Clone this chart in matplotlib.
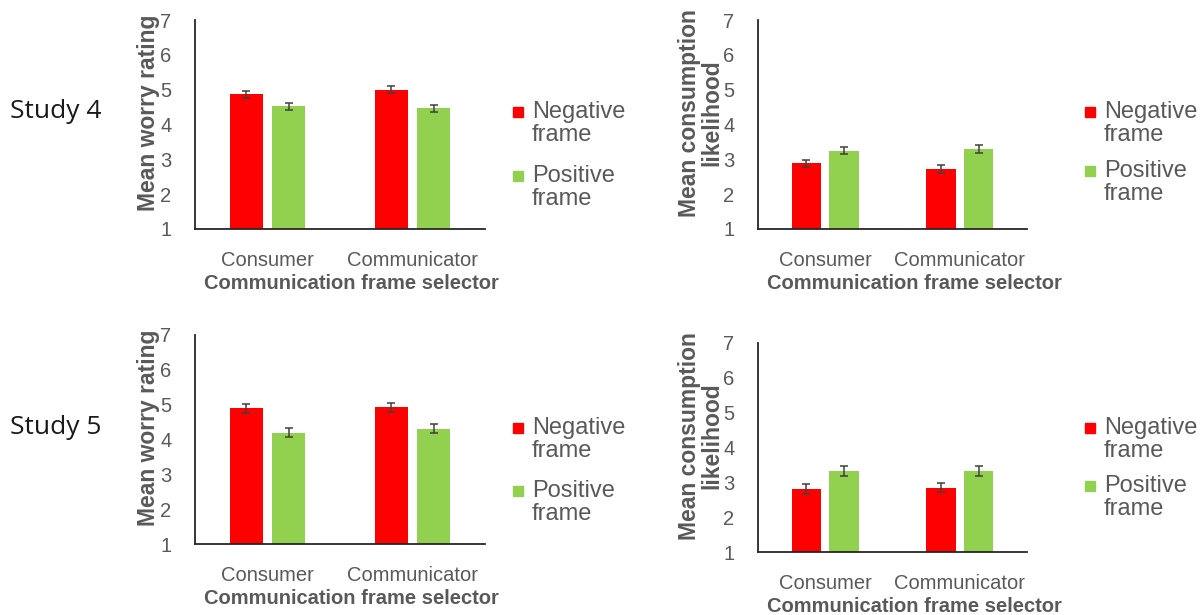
import numpy as np
import matplotlib
matplotlib.use("Agg")
import matplotlib.pyplot as plt
from matplotlib.patches import Rectangle

groups = ["Consumer", "Communicator"]
frames = ["Negative\nframe", "Positive\nframe"]
colors = ["#ff0000", "#92d050"]

# study 4
s4_worry_neg = [4.87, 5.00]
s4_worry_pos = [4.52, 4.46]
s4_worry_err = [0.10, 0.10]
s4_cons_neg = [2.89, 2.72]
s4_cons_pos = [3.25, 3.30]
s4_cons_err = [0.10, 0.11]

# study 5
s5_worry_neg = [4.89, 4.92]
s5_worry_pos = [4.20, 4.31]
s5_worry_err = [0.14, 0.13]
s5_cons_neg = [2.80, 2.85]
s5_cons_pos = [3.32, 3.32]
s5_cons_err = [0.14, 0.14]

W, H = 1204, 615
grey = "#595959"
fig = plt.figure(figsize=(W / 100, H / 100), dpi=100)
plt.rcParams['font.family'] = ['Liberation Sans', 'DejaVu Sans']


def px_axes(l, r, t, b):
    return fig.add_axes([l / W, 1 - b / H, (r - l) / W, (b - t) / H])


def legend(x, y_rows):
    # manual legend: square next to the first line of each two-line label
    for lab, c, y in zip(frames, colors, y_rows):
        fig.patches.append(Rectangle(((x) / W, 1 - (y + 5) / H), 10 / W, 10 / H,
                                     transform=fig.transFigure, color=c))
        fig.text((x + 19) / W, 1 - (y - 11) / H, lab, fontsize=17, color=grey,
                 va="top", ha="left", linespacing=1.03)


def panel(ax, neg, pos, err, ylabel, bw, xl_x):
    x = np.arange(len(groups))
    off = bw / 2 + 0.03
    for vals, c, d in [(neg, colors[0], -off), (pos, colors[1], off)]:
        ax.bar(x + d, np.array(vals) - 1, bw, bottom=1, color=c, zorder=2)
        ax.errorbar(x + d, vals, yerr=err, fmt="none", ecolor="#404040",
                    elinewidth=1.1, capsize=3, capthick=1.1, zorder=3)
    ax.set_xlim(-0.5, 1.5)
    ax.set_ylim(1, 7)
    ax.set_yticks(range(1, 8))
    ax.set_xticks(x)
    ax.set_xticklabels(groups)
    for s in ["top", "right"]:
        ax.spines[s].set_visible(False)
    for s in ["left", "bottom"]:
        ax.spines[s].set_color("#262626")
        ax.spines[s].set_linewidth(1.3)
    ax.tick_params(length=0, labelsize=14.5, colors=grey)
    ax.tick_params(axis="x", pad=16)
    ax.tick_params(axis="y", pad=17)
    ax.set_xlabel("Communication frame selector", fontsize=14.5, fontweight="bold",
                  color=grey, labelpad=3)
    ax.set_ylabel(ylabel, fontsize=16.5, fontweight="bold", color=grey,
                  labelpad=0, linespacing=0.95)
    ax.xaxis.label.set_x(xl_x)
    ax.yaxis.label.set_y(0.557)


ax1 = px_axes(195, 485, 20, 229)
panel(ax1, s4_worry_neg, s4_worry_pos, s4_worry_err, "Mean worry rating", 0.23, 0.538)
legend(513, [112, 176])
ax2 = px_axes(758, 1027, 20, 229)
panel(ax2, s4_cons_neg, s4_cons_pos, s4_cons_err, "Mean consumption\nlikelihood", 0.22, 0.58)
legend(1085, [112, 171])
ax3 = px_axes(195, 485, 335, 544)
panel(ax3, s5_worry_neg, s5_worry_pos, s5_worry_err, "Mean worry rating", 0.23, 0.538)
legend(513, [428, 491])
ax4 = px_axes(758, 1027, 343, 552)
panel(ax4, s5_cons_neg, s5_cons_pos, s5_cons_err, "Mean consumption\nlikelihood", 0.22, 0.58)
legend(1085, [428, 486])

fig.text(10 / W, 1 - 112 / H, "Study 4", fontsize=19, family=["Open Sans", "DejaVu Sans"],
         color="#1a1a1a", va="center")
fig.text(10 / W, 1 - 428 / H, "Study 5", fontsize=19, family=["Open Sans", "DejaVu Sans"],
         color="#1a1a1a", va="center")

fig.savefig("out.png", dpi=100)
